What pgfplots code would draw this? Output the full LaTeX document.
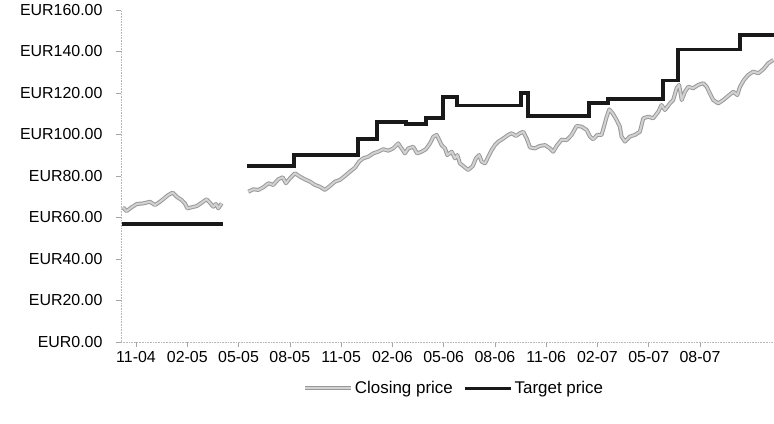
\documentclass[border=0pt]{standalone}
\usepackage{fontspec}
\setmainfont{Liberation Sans}
\usepackage{pgfplots}
\pgfplotsset{compat=1.18}
\usepackage{pgfplotstable}

% x = months since 1 Oct 2004, y = EUR
\pgfplotstableread{
m price
0.22 64.9
0.45 63.1
0.74 64.9
1.04 66.5
1.42 66.8
1.81 67.6
2.11 66.0
2.40 67.6
2.69 69.5
2.88 70.8
3.14 72.0
3.38 70.0
3.67 68.4
3.86 66.8
4.00 64.4
4.25 64.9
4.55 65.5
4.84 67.1
5.13 68.8
5.32 67.1
5.52 65.2
5.68 66.5
5.81 64.4
6.01 66.8
}\closeA

\pgfplotstableread{
m price
7.57 72.4
7.86 73.6
8.15 73.3
8.44 74.5
8.74 76.5
9.03 75.7
9.32 78.4
9.58 79.4
9.77 76.5
10.01 78.9
10.30 81.3
10.59 79.7
10.88 78.4
11.18 77.3
11.47 75.7
11.76 74.8
12.05 73.3
12.35 75.2
12.64 77.3
12.93 78.1
13.22 80.0
13.52 82.1
13.81 84.0
14.06 87.0
14.29 88.5
14.59 89.3
14.88 90.9
15.17 91.7
15.47 92.9
15.76 92.2
16.05 93.3
16.34 95.7
16.54 93.3
16.73 90.9
16.93 93.3
17.22 94.1
17.45 90.9
17.71 91.7
17.96 92.9
18.20 95.7
18.39 98.9
18.59 99.8
18.74 97.3
18.88 94.9
19.08 93.3
19.21 90.1
19.47 91.7
19.66 88.5
19.80 90.1
19.95 86.1
20.19 84.5
20.44 82.9
20.70 84.8
20.89 88.5
21.08 90.1
21.22 86.9
21.42 86.1
21.61 89.3
21.81 92.5
22.00 94.9
22.19 96.5
22.49 98.1
22.78 99.8
22.98 100.6
23.23 99.3
23.46 100.6
23.66 101.3
23.86 98.1
24.05 93.8
24.34 93.3
24.63 94.5
24.93 94.9
25.22 93.3
25.41 91.7
25.61 94.5
25.90 97.5
26.20 97.3
26.49 99.8
26.78 104.1
27.07 103.8
27.37 102.2
27.56 99.0
27.75 97.7
27.99 99.8
28.24 99.8
28.38 103.8
28.54 108.6
28.69 112.1
28.89 110.2
29.12 107.0
29.31 103.8
29.41 99.0
29.61 96.6
29.90 99.0
30.19 99.8
30.48 101.3
30.68 107.8
30.97 108.6
31.26 107.8
31.56 111.0
31.75 114.2
31.95 111.8
32.24 115.0
32.43 116.6
32.63 122.3
32.78 123.9
32.93 116.6
33.12 120.6
33.31 123.0
33.60 122.3
33.90 123.9
34.19 124.7
34.39 123.0
34.58 119.8
34.77 116.6
35.07 115.0
35.36 116.6
35.65 118.6
35.95 120.6
36.18 119.0
36.34 123.0
36.57 126.3
36.82 128.7
37.11 130.3
37.41 129.5
37.70 131.4
37.99 134.3
38.29 135.9
}\closeB

\pgfplotstableread{
m target
0.18 57
6.09 57
}\targetA

\pgfplotstableread{
m target
7.49 85
10.24 90
13.98 98
15.10 106
16.79 105
17.96 108
18.96 118
19.78 114
23.52 120
23.93 109
27.50 115
28.61 117
31.83 126
32.71 141
36.34 148
38.33 148
}\targetB

\begin{document}
\begin{tikzpicture}
\useasboundingbox (0bp,0bp) rectangle (774bp,424bp);
\begin{axis}[
  at={(121bp,82bp)}, anchor=south west,
  scale only axis, width=653bp, height=332bp,
  xmin=0.12, xmax=38.33, ymin=0, ymax=160,
  axis x line*=bottom, axis y line*=left,
  axis line style={gray!55, line width=0.6bp, densely dotted},
  tick align=outside,
  major tick length=5bp,
  tick style={gray!70, line width=0.6bp, solid},
  font=\fontsize{16}{19}\selectfont,
  /pgf/number format/assume math mode=true,
  xtick={1,4,...,34},
  xticklabels={11-04,02-05,05-05,08-05,11-05,02-06,05-06,08-06,11-06,02-07,05-07,08-07},
  ytick={0,20,...,160},
  yticklabels={EUR0.00,EUR20.00,EUR40.00,EUR60.00,EUR80.00,EUR100.00,EUR120.00,EUR140.00,EUR160.00},
  yticklabel style={xshift=-10bp},
  xticklabel style={yshift=-1bp},
  clip=false,
  legend style={draw=none, fill=none, at={(axis description cs:0.51,-0.14)},
    anchor=center, legend columns=2,
    /tikz/every even column/.append style={column sep=8bp},
    font=\fontsize{17}{20}\selectfont},
  legend cell align=left,
  legend image code/.code={\draw[#1] (0bp,0bp) -- (46bp,0bp);},
  closing/.style={draw=gray!80, double=gray!35, double distance=2bp,
    line width=1bp, line join=round},
  target/.style={black!90, line width=3.8bp, line join=miter},
]
\addplot[closing, forget plot] table[x=m, y=price] {\closeA};
\addplot[closing] table[x=m, y=price] {\closeB};
\addlegendentry{Closing price}
\addplot[target, const plot, forget plot] table[x=m, y=target] {\targetA};
\addplot[target, const plot] table[x=m, y=target] {\targetB};
\addlegendentry{Target price}
\end{axis}
\end{tikzpicture}
\end{document}
